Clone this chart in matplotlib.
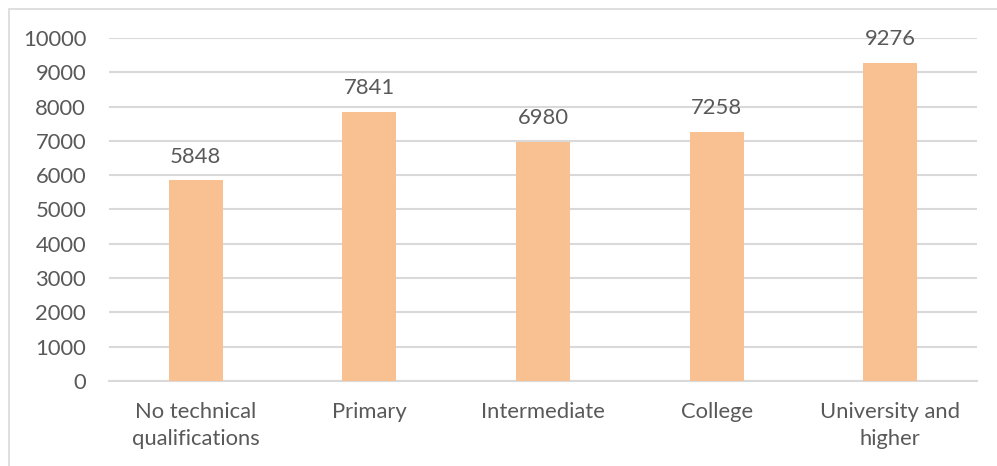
import matplotlib.pyplot as plt
from matplotlib.patches import Rectangle

categories = ["No technical\nqualifications", "Primary", "Intermediate", "College", "University and\nhigher"]
values = [5848, 7841, 6980, 7258, 9276]
yticks = [0, 1000, 2000, 3000, 4000, 5000, 6000, 7000, 8000, 9000, 10000]

BAR = "#F9C191"
TEXT = "#595959"
GRID = "#D9D9D9"

plt.rcParams['font.family'] = ['Lato', 'DejaVu Sans']
FS = 15.8

fig = plt.figure(figsize=(9.97, 4.66), dpi=100)
ax = fig.add_axes([109/997, 1-381/466, (977-109)/997, (381-38)/466])

# chart border (right/bottom edges fall outside the crop)
fig.patches.append(Rectangle((9/997, -0.1), 1.2, 1-9/466+0.1, transform=fig.transFigure,
                             fill=False, edgecolor=GRID, linewidth=1.2))

x = range(len(categories))
bars = ax.bar(x, values, width=0.31, color=BAR, zorder=3)
for xi, v in zip(x, values):
    ax.annotate(str(v), (xi, v), xytext=(0, 10), textcoords="offset points",
                ha="center", va="bottom", fontsize=FS, color=TEXT)

ax.set_xlim(-0.5, len(categories) - 0.5)
ax.set_ylim(0, 10000)
ax.set_yticks(yticks)
ax.set_yticklabels([str(t) for t in yticks])
ax.set_xticks(list(x))
ax.set_xticklabels(categories, linespacing=1.45)
ax.tick_params(axis="both", length=0, labelsize=FS, labelcolor=TEXT)
ax.tick_params(axis="x", pad=15)
ax.tick_params(axis="y", pad=16.5)
ax.grid(axis="y", color=GRID, linewidth=1.5, zorder=0)
for s in ["top", "right", "left"]:
    ax.spines[s].set_visible(False)
ax.spines["bottom"].set_color(GRID)
ax.spines["bottom"].set_linewidth(1.5)

fig.savefig("out.png", dpi=100)
